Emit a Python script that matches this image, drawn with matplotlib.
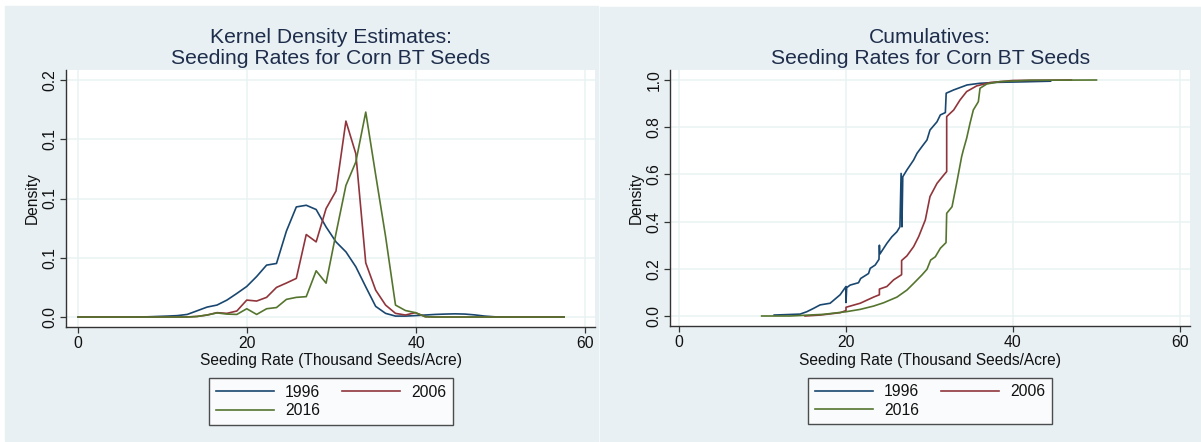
import matplotlib
matplotlib.use('Agg')
import matplotlib.pyplot as plt
from matplotlib.patches import Rectangle
import numpy as np

plt.rcParams['font.family'] = ['Liberation Sans', 'DejaVu Sans']

# kernel density grid (50 points) and estimates
kde_x = np.linspace(0, 57.5, 50)
kde_1996 = [0, 0, 0, 0, 0, 0, 0, 0.0002, 0.0005, 0.0008,
            0.0012, 0.0022, 0.0053, 0.0084, 0.0101, 0.0143, 0.0199, 0.0258, 0.0342, 0.0438,
            0.0452, 0.0725, 0.0929, 0.0943, 0.0907, 0.0760, 0.0634, 0.0550, 0.0424, 0.0255,
            0.0090, 0.0031, 0.0008, 0.0008, 0.0012, 0.0017, 0.0022, 0.0025, 0.0027, 0.0025,
            0.0018, 0.0008, 0.0002, 0, 0, 0, 0, 0, 0, 0]
kde_2006 = [0, 0, 0, 0, 0, 0, 0, 0, 0, 0,
            0, 0.0001, 0.0005, 0.0017, 0.0037, 0.0031, 0.0051, 0.0143, 0.0135, 0.0166,
            0.0250, 0.0287, 0.0326, 0.0696, 0.0634, 0.0915, 0.1063, 0.1653, 0.1378, 0.0457,
            0.0227, 0.0101, 0.0031, 0.0017, 0.0037, 0.0003, 0, 0, 0, 0,
            0, 0, 0, 0, 0, 0, 0, 0, 0, 0]
kde_2016 = [0, 0, 0, 0, 0, 0, 0, 0, 0, 0,
            0, 0, 0.0005, 0.0017, 0.0035, 0.0025, 0.0022, 0.0070, 0.0022, 0.0070,
            0.0080, 0.0149, 0.0166, 0.0172, 0.0390, 0.0286, 0.0705, 0.1110, 0.1308, 0.1729,
            0.1200, 0.0680, 0.0101, 0.0055, 0.0037, 0.0003, 0, 0, 0, 0,
            0, 0, 0, 0, 0, 0, 0, 0, 0, 0]

# cumulative curves (vertices)
cum_x_1996 = [11.4, 13.0, 14.5, 15.3, 16.1, 16.9, 18.1, 19.3, 20.0, 20.0, 20.08, 20.5,
              21.5, 21.76, 22.7, 22.9, 23.5, 23.95, 24.0, 24.05, 24.9, 25.5, 26.1, 26.46,
              26.6, 26.7, 26.8, 27.3, 28.1, 28.5, 29.1, 29.7, 30.06, 30.9, 31.3, 31.9,
              32.0, 32.9, 34.5, 36.0, 38.0, 41.0, 44.5]
cum_y_1996 = [0.004, 0.006, 0.008, 0.018, 0.032, 0.047, 0.054, 0.090, 0.125, 0.057, 0.120, 0.131,
              0.141, 0.159, 0.180, 0.202, 0.216, 0.240, 0.300, 0.262, 0.308, 0.336, 0.357, 0.378,
              0.604, 0.378, 0.590, 0.619, 0.661, 0.689, 0.718, 0.746, 0.788, 0.823, 0.852, 0.862,
              0.944, 0.958, 0.979, 0.986, 0.990, 0.992, 0.995]
cum_x_2006 = [15.1, 16.9, 19.3, 20.0, 20.0, 21.7, 23.3, 24.0, 24.0, 24.9, 25.7, 26.66,
              26.66, 27.3, 28.1, 28.7, 29.5, 30.06, 30.9, 31.7, 32.06, 32.06, 32.9, 33.65,
              34.45, 35.65, 37.25, 40.0, 44.0, 47.0]
cum_y_2006 = [0.0, 0.004, 0.014, 0.023, 0.037, 0.054, 0.080, 0.090, 0.114, 0.125, 0.153, 0.175,
              0.235, 0.255, 0.294, 0.336, 0.407, 0.506, 0.562, 0.597, 0.612, 0.845, 0.873, 0.915,
              0.951, 0.975, 0.989, 0.998, 0.999, 1.0]
cum_x_2016 = [9.9, 13.3, 17.3, 20.0, 21.7, 23.3, 24.5, 26.1, 27.3, 28.1, 29.1, 29.7,
              30.14, 30.7, 31.3, 31.98, 32.06, 32.7, 33.05, 33.25, 33.85, 34.05, 34.45, 34.85,
              35.25, 35.85, 36.05, 36.85, 38.4, 42.0, 50.0]
cum_y_2016 = [0.0, 0.0, 0.007, 0.018, 0.028, 0.042, 0.056, 0.080, 0.110, 0.138, 0.174, 0.198,
              0.237, 0.251, 0.287, 0.311, 0.435, 0.463, 0.526, 0.562, 0.675, 0.703, 0.753, 0.816,
              0.873, 0.908, 0.965, 0.983, 0.993, 0.999, 1.0]

years = ['1996', '2006', '2016']
colors = ['#1a476f', '#90353b', '#55752f']
bg = '#e8f0f3'
grid_c = '#eaf2f3'
title_c = '#1e2d4b'

W, H = 1201, 442
fig = plt.figure(figsize=(W / 100, H / 100), dpi=100, facecolor='white')

# light panel backgrounds
fig.patches.append(Rectangle((5 / W, 1 - 441 / H), 593 / W, 435 / H,
                             transform=fig.transFigure, color=bg, zorder=-10))
fig.patches.append(Rectangle((600 / W, 1 - 441 / H), 601 / W, 434 / H,
                             transform=fig.transFigure, color=bg, zorder=-10))


def px_axes(l, r, t, b):
    return fig.add_axes([l / W, 1 - b / H, (r - l) / W, (b - t) / H])


def style(ax, xlim, ylim, yticks, ylabels):
    ax.set_facecolor('white')
    ax.set_xlim(*xlim)
    ax.set_ylim(*ylim)
    ax.set_xticks([0, 20, 40, 60])
    ax.set_yticks(yticks)
    ax.set_yticklabels(ylabels)
    ax.grid(True, color=grid_c, lw=1.1, zorder=0)
    ax.set_axisbelow(True)
    for s in ['top', 'right']:
        ax.spines[s].set_visible(False)
    for s in ['left', 'bottom']:
        ax.spines[s].set_color('#333333')
        ax.spines[s].set_linewidth(1.0)
    ax.tick_params(length=4, width=0.9, color='#333333', labelsize=11.3,
                   labelcolor='#111111', pad=2.5)
    ax.tick_params(axis='y', labelrotation=90)
    for lab in ax.get_yticklabels():
        lab.set_va('center')
    ax.set_xlabel('Seeding Rate (Thousand Seeds/Acre)', fontsize=11.2, color='#111111',
                  va='center')
    ax.set_ylabel('Density', fontsize=11.2, color='#111111', va='center')


def legend(ax, cx, cy):
    # stata fills legend rows first: reorder for matplotlib's column fill
    h, l = ax.get_legend_handles_labels()
    order = [0, 2, 1]
    leg = ax.legend([h[i] for i in order], [l[i] for i in order],
                    loc='center', bbox_to_anchor=(cx / W, 1 - cy / H),
                    bbox_transform=fig.transFigure, ncol=2, frameon=True,
                    fancybox=False, edgecolor='#222222', fontsize=11.3,
                    handlelength=3.7, handletextpad=0.7, columnspacing=1.4,
                    labelspacing=0.25, borderpad=0.4)
    leg.get_frame().set_linewidth(1.0)
    for t in leg.get_texts():
        t.set_color('#111111')


# left: kernel densities
ax1 = px_axes(66, 595, 70, 327)
for y, c, lab in zip([kde_1996, kde_2006, kde_2016], colors, years):
    ax1.plot(kde_x, y, color=c, lw=1.2, label=lab, zorder=3)
style(ax1, (-1.44, 61.16), (-0.0084, 0.2084), [0, 0.05, 0.1, 0.15, 0.2],
      ['0.0', '0.1', '0.1', '0.1', '0.2'])
ax1.xaxis.set_label_coords(0.5, -(361 - 327) / 257)
ax1.yaxis.set_label_coords(-(66 - 32) / 529, 0.5)
ax1.set_title('Kernel Density Estimates:\nSeeding Rates for Corn BT Seeds',
              fontsize=15.2, color=title_c, pad=4, linespacing=1.17)
legend(ax1, 331, 401.5)

# right: cumulatives
ax2 = px_axes(670.4, 1190, 70, 326)
for x, y, c, lab in zip([cum_x_1996, cum_x_2006, cum_x_2016],
                        [cum_y_1996, cum_y_2006, cum_y_2016], colors, years):
    ax2.plot(x, y, color=c, lw=1.2, label=lab, zorder=3)
style(ax2, (-1.03, 61.2), (-0.0424, 1.0424), [0, 0.2, 0.4, 0.6, 0.8, 1.0],
      ['0.0', '0.2', '0.4', '0.6', '0.8', '1.0'])
ax2.xaxis.set_label_coords(0.5, -(360 - 326) / 256)
ax2.yaxis.set_label_coords(-(670.4 - 636) / 519.6, 0.5)
ax2.set_title('Cumulatives:\nSeeding Rates for Corn BT Seeds',
              fontsize=15.2, color=title_c, pad=4, linespacing=1.17)
legend(ax2, 930, 401)

fig.savefig('out.png', dpi=100, facecolor='white')
